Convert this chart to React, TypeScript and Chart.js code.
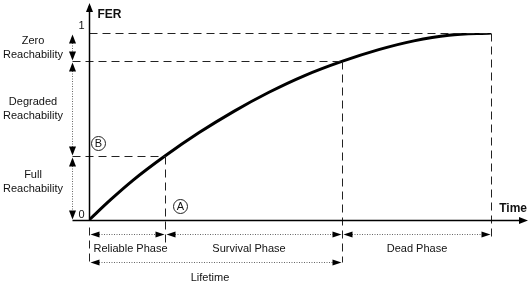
import React, { useEffect, useRef } from "react";
import { Chart, registerables } from "chart.js";

Chart.register(...registerables);

// Curve: FER as a function of time (arbitrary time units)
const TIME = [0, 0.5, 1.0, 1.73, 2.5, 3.3, 4.1, 4.9, 5.76, 6.6, 7.4, 8.2, 9.16];
const FER = [0, 0.11, 0.212, 0.342, 0.466, 0.581, 0.683, 0.771, 0.848, 0.911, 0.958, 0.988, 1.0];

const TIME_MAX = 10;
const Y_TICK_VALUES = [0, 1];
const Y_TICK_LABELS = ["0", "1"];

// Phase boundaries along time axis
const PHASE_BOUNDS = [0, 1.73, 5.76, 9.16];
const PHASE_LABELS = ["Reliable Phase", "Survival Phase", "Dead Phase"];
const LIFETIME_LABEL = "Lifetime";

// Reachability boundaries along FER axis
const REACH_BOUNDS = [1, 0.848, 0.342, 0];
const REACH_LABELS = [
  ["Zero", "Reachability"],
  ["Degraded", "Reachability"],
  ["Full", "Reachability"],
];

const FONT = "'Liberation Sans', Arial, Helvetica, sans-serif";

function arrowHead(ctx: CanvasRenderingContext2D, x: number, y: number, dx: number, dy: number, len = 8, hw = 3) {
  ctx.save();
  ctx.setLineDash([]);
  ctx.fillStyle = "#000";
  ctx.beginPath();
  ctx.moveTo(x, y);
  const px = -dy, py = dx;
  ctx.lineTo(x - dx * len + px * hw, y - dy * len + py * hw);
  ctx.lineTo(x - dx * len - px * hw, y - dy * len - py * hw);
  ctx.closePath();
  ctx.fill();
  ctx.restore();
}

function line(ctx: CanvasRenderingContext2D, x1: number, y1: number, x2: number, y2: number, dash: number[], color: string, w = 1) {
  ctx.save();
  ctx.strokeStyle = color;
  ctx.lineWidth = w;
  ctx.setLineDash(dash);
  ctx.beginPath();
  ctx.moveTo(x1, y1);
  ctx.lineTo(x2, y2);
  ctx.stroke();
  ctx.restore();
}

const DASH = [8, 5];
const DOT = [1, 1.5];

const diagramPlugin = {
  id: "diagram",
  afterDraw(chart: any) {
    const ctx: CanvasRenderingContext2D = chart.ctx;
    const xs = chart.scales.x;
    const ys = chart.scales.y;
    const X = (v: number) => Math.round(xs.getPixelForValue(v)) + 0.5;
    const Y = (v: number) => Math.round(ys.getPixelForValue(v)) + 0.5;
    const x0 = X(0);
    const y0 = Y(0);
    const leftArrowX = x0 - 17;
    const phaseY = y0 + 14;
    const lifeY = y0 + 42;

    // Dashed guide lines
    const tA = PHASE_BOUNDS[1], tL = PHASE_BOUNDS[2], tD = PHASE_BOUNDS[3];
    const yTop = REACH_BOUNDS[0], yDeg = REACH_BOUNDS[1], yFull = REACH_BOUNDS[2];
    line(ctx, x0, Y(yTop), X(tD), Y(yTop), DASH, "#222");
    line(ctx, leftArrowX, Y(yDeg), X(tL), Y(yDeg), DASH, "#222");
    line(ctx, leftArrowX, Y(yFull), X(tA), Y(yFull), DASH, "#222");
    line(ctx, X(tA), Y(yFull), X(tA), y0 + 27, DASH, "#222");
    line(ctx, X(tL), Y(yDeg), X(tL), lifeY, DASH, "#222");
    line(ctx, X(tD), Y(yTop), X(tD), y0 + 20, DASH, "#222");
    line(ctx, x0, y0 + 7, x0, lifeY, DASH, "#222");

    // Axes
    line(ctx, x0, y0, x0, 6, [], "#000", 1.5);
    arrowHead(ctx, x0, 3, 0, -1, 9, 3.5);
    line(ctx, leftArrowX, y0, chart.chartArea.right - 6, y0, [], "#000", 1.5);
    arrowHead(ctx, chart.chartArea.right, y0, 1, 0, 9, 3.5);

    // Reachability arrows on the left
    for (let i = 0; i < 3; i++) {
      const a = Y(REACH_BOUNDS[i]);
      const b = Y(REACH_BOUNDS[i + 1]);
      const ta = a + 1;
      const tb = b - 1;
      line(ctx, leftArrowX, ta + 6, leftArrowX, tb - 6, DOT, "#666");
      arrowHead(ctx, leftArrowX, ta, 0, -1, 9, 3.5);
      arrowHead(ctx, leftArrowX, tb, 0, 1, 9, 3.5);
      ctx.save();
      ctx.fillStyle = "#111";
      ctx.font = `11px ${FONT}`;
      ctx.textAlign = "center";
      ctx.textBaseline = "middle";
      const mid = (a + b) / 2 + (i === 2 ? -7 : 0);
      ctx.fillText(REACH_LABELS[i][0], 33, mid - 7);
      ctx.fillText(REACH_LABELS[i][1], 33, mid + 7);
      ctx.restore();
    }

    // Phase arrows
    for (let i = 0; i < 3; i++) {
      const a = X(PHASE_BOUNDS[i]) + 1;
      const b = X(PHASE_BOUNDS[i + 1]) - 1;
      line(ctx, a + 6, phaseY, b - 6, phaseY, DOT, "#666");
      arrowHead(ctx, a, phaseY, -1, 0, 9, 3);
      arrowHead(ctx, b, phaseY, 1, 0, 9, 3);
      ctx.save();
      ctx.fillStyle = "#111";
      ctx.font = `11px ${FONT}`;
      ctx.textAlign = "center";
      ctx.textBaseline = "middle";
      ctx.fillText(PHASE_LABELS[i], (a + b) / 2 + (i === 0 ? 3 : i === 1 ? -5 : 0), phaseY + 14);
      ctx.restore();
    }
    // Lifetime arrow
    {
      const a = X(PHASE_BOUNDS[0]) + 1;
      const b = X(PHASE_BOUNDS[2]) - 1;
      line(ctx, a + 6, lifeY, b - 6, lifeY, DOT, "#666");
      arrowHead(ctx, a, lifeY, -1, 0, 9, 3);
      arrowHead(ctx, b, lifeY, 1, 0, 9, 3);
      ctx.save();
      ctx.fillStyle = "#111";
      ctx.font = `11px ${FONT}`;
      ctx.textAlign = "center";
      ctx.textBaseline = "middle";
      ctx.fillText(LIFETIME_LABEL, (a + b) / 2 - 6, lifeY + 15);
      ctx.restore();
    }

    // Tick labels & axis titles
    ctx.save();
    ctx.fillStyle = "#111";
    ctx.font = `11px ${FONT}`;
    ctx.textAlign = "right";
    ctx.textBaseline = "middle";
    Y_TICK_VALUES.forEach((v, i) => {
      ctx.fillText(Y_TICK_LABELS[i], x0 - 5, Y(v) - (v === 0 ? 6 : 8));
    });
    ctx.font = `bold 12px ${FONT}`;
    ctx.textAlign = "left";
    ctx.fillText("FER", x0 + 8, 15);
    ctx.textAlign = "right";
    ctx.fillText("Time", chart.chartArea.right - 1, y0 - 12);
    ctx.restore();

    // Circled markers
    const circle = (cx: number, cy: number, t: string) => {
      ctx.save();
      ctx.setLineDash([]);
      ctx.strokeStyle = "#222";
      ctx.lineWidth = 1;
      ctx.beginPath();
      ctx.arc(cx, cy, 7, 0, Math.PI * 2);
      ctx.stroke();
      ctx.fillStyle = "#111";
      ctx.font = `11px ${FONT}`;
      ctx.textAlign = "center";
      ctx.textBaseline = "middle";
      ctx.fillText(t, cx, cy + 0.5);
      ctx.restore();
    };
    circle(x0 + 9, Y(yFull) - 13, "B");
    circle(X(tA) + 15, y0 - 14, "A");
  },
};

export default function App() {
  const ref = useRef<HTMLCanvasElement | null>(null);
  useEffect(() => {
    if (!ref.current) return;
    const chart = new Chart(ref.current, {
      type: "line",
      data: {
        datasets: [
          {
            data: TIME.map((t, i) => ({ x: t, y: FER[i] })),
            borderColor: "#000",
            borderWidth: 3,
            pointRadius: 0,
            cubicInterpolationMode: "monotone",
            fill: false,
          },
        ],
      },
      options: {
        animation: false,
        responsive: false,
        devicePixelRatio: 1,
        layout: { padding: { left: 89, right: 4, top: 33, bottom: 64 } },
        plugins: { legend: { display: false }, tooltip: { enabled: false } },
        scales: {
          x: { type: "linear", min: 0, max: TIME_MAX, display: false },
          y: { type: "linear", min: 0, max: 1, display: false },
        },
      },
      plugins: [diagramPlugin],
    });
    return () => chart.destroy();
  }, []);
  return (
    <div style={{ position: "fixed", left: 0, top: 0, width: 532, height: 284, background: "#fff" }}>
      <canvas ref={ref} width={532} height={284} />
    </div>
  );
}
